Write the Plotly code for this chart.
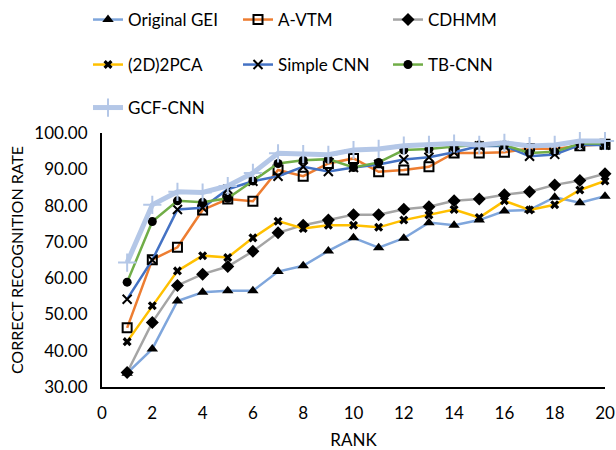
import plotly.graph_objects as go

rank = list(range(1, 21))

original_gei = [33.8, 40.5, 53.7, 56.1, 56.5, 56.5, 61.8, 63.4, 67.5, 71.1, 68.4, 71.0, 75.3, 74.6, 76.0, 78.5, 78.8, 82.3, 80.8, 82.6]
a_vtm = [46.3, 65.1, 68.5, 78.8, 81.8, 81.2, 89.8, 88.1, 91.6, 93.0, 89.3, 89.8, 90.7, 94.5, 94.5, 94.7, 95.7, 95.6, 96.5, 96.9]
cdhmm = [34.0, 47.8, 58.0, 61.1, 63.2, 67.4, 72.5, 74.6, 76.0, 77.5, 77.5, 79.0, 79.7, 81.3, 81.8, 83.0, 83.8, 85.7, 86.9, 88.8]
pca2d = [42.5, 52.4, 62.0, 66.2, 65.7, 71.1, 75.7, 73.7, 74.6, 74.6, 74.0, 76.0, 77.4, 78.9, 76.7, 81.3, 78.8, 80.2, 84.3, 86.8]
simple_cnn = [54.2, 65.0, 78.9, 79.4, 84.5, 86.7, 88.1, 90.7, 89.4, 90.5, 91.3, 92.7, 93.3, 94.7, 96.4, 96.4, 93.6, 94.1, 96.7, 96.7]
tb_cnn = [58.9, 75.6, 81.3, 80.9, 82.0, 86.8, 91.6, 92.5, 92.8, 90.5, 91.9, 95.3, 95.6, 96.3, 96.7, 96.7, 94.5, 94.8, 97.1, 97.1]
gcf_cnn = [64.3, 80.2, 83.8, 83.6, 85.4, 89.0, 94.4, 94.2, 94.0, 95.3, 95.6, 96.5, 96.7, 97.1, 96.7, 97.3, 96.4, 96.7, 97.8, 97.8]

x_ticks = list(range(0, 21, 2))
y_ticks = [30, 40, 50, 60, 70, 80, 90, 100]
y_tick_labels = [f"{v:.2f}" for v in y_ticks]

FONT = "Lato, 'Open Sans', sans-serif"

series = [
    ("Original GEI", original_gei, "#7FA6DC", 2.5, dict(symbol="triangle-up", size=10, color="black"), "legend"),
    ("A-VTM", a_vtm, "#ED7D31", 2.5, dict(symbol="square-open", size=9, color="black", line=dict(width=2, color="black")), "legend"),
    ("CDHMM", cdhmm, "#A5A5A5", 2.5, dict(symbol="diamond", size=10, color="black"), "legend"),
    ("(2D)2PCA", pca2d, "#FFC000", 2.5, dict(symbol="x", size=8, color="black"), "legend2"),
    ("Simple CNN", simple_cnn, "#4472C4", 2.5, dict(symbol="x-thin-open", size=9, color="black", line=dict(width=2, color="black")), "legend2"),
    ("TB-CNN", tb_cnn, "#70AD47", 2.5, dict(symbol="circle", size=9, color="black"), "legend2"),
    ("GCF-CNN", gcf_cnn, "#B4C7E7", 5, dict(symbol="cross-thin-open", size=13, color="#B4C7E7", line=dict(width=2, color="#B4C7E7")), "legend3"),
]

fig = go.Figure()
for name, vals, color, width, marker, leg in series:
    fig.add_trace(go.Scatter(
        x=rank, y=vals, name=name, mode="lines+markers",
        line=dict(color=color, width=width), marker=marker,
        legend=leg, cliponaxis=False,
    ))

leg_common = dict(orientation="h", xref="container", yref="container",
                  xanchor="left", yanchor="middle", entrywidth=105,
                  font=dict(family=FONT, size=17, color="#000000"),
                  bgcolor="rgba(0,0,0,0)", tracegroupgap=0)

fig.update_layout(
    width=616, height=450,
    margin=dict(l=102, r=11, t=133, b=63, autoexpand=False),
    paper_bgcolor="white", plot_bgcolor="white",
    font=dict(family=FONT, size=17, color="#000000"),
    legend=dict(x=88/616, y=1 - 20/450, **leg_common),
    legend2=dict(x=88/616, y=1 - 65/450, **leg_common),
    legend3=dict(x=88/616, y=1 - 108/450, **leg_common),
    xaxis=dict(
        range=[0, 20], tickmode="array", tickvals=x_ticks, automargin=False,
        showgrid=False, zeroline=False, showline=True, linecolor="black", linewidth=2,
        ticks="outside", ticklen=10, tickcolor="rgba(0,0,0,0)",
        tickfont=dict(family=FONT, size=17),
        title=dict(text="RANK", font=dict(family=FONT, size=17), standoff=14),
    ),
    yaxis=dict(
        range=[30, 100], tickmode="array", tickvals=y_ticks, ticktext=y_tick_labels,
        automargin=False,
        showgrid=False, zeroline=False, showline=True, linecolor="black", linewidth=2,
        ticks="outside", ticklen=9, tickcolor="rgba(0,0,0,0)",
        tickfont=dict(family=FONT, size=17),
        title=dict(text="CORRECT RECOGNITION RATE", font=dict(family=FONT, size=16), standoff=7),
    ),
)

fig.write_html("out.html")
